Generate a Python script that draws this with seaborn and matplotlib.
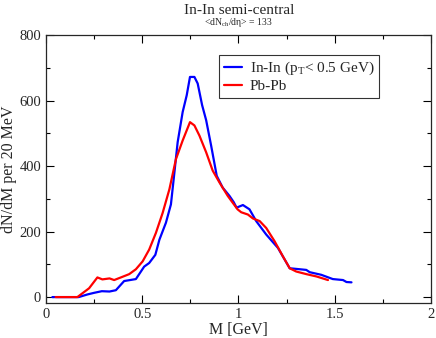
import pandas as pd
import seaborn as sns
import matplotlib.pyplot as plt
from matplotlib.ticker import MultipleLocator

# In-In (pT < 0.5 GeV)
m_inin = [0.033, 0.10, 0.17, 0.215, 0.25, 0.29, 0.33, 0.363, 0.406, 0.467, 0.51, 0.536,
          0.568, 0.589, 0.623, 0.649, 0.667, 0.684, 0.71, 0.731, 0.748, 0.771, 0.788,
          0.811, 0.832, 0.858, 0.887, 0.918, 0.953, 0.975, 0.99, 1.023, 1.057, 1.092,
          1.144, 1.205, 1.266, 1.318, 1.352, 1.37, 1.43, 1.49, 1.543, 1.561, 1.587]
dn_inin = [0, 0, 0, 8, 13, 18, 17, 21, 49, 55, 93, 104,
           129, 175, 227, 283, 380, 473, 565, 616, 672, 672, 652,
           586, 540, 462, 370, 334, 309, 290, 273, 281, 268, 232,
           191, 150, 88, 85, 83, 76, 68, 55, 52, 46, 45]

# Pb-Pb
m_pbpb = [0.05, 0.10, 0.163, 0.224, 0.267, 0.293, 0.33, 0.354, 0.389, 0.432, 0.467,
          0.502, 0.536, 0.571, 0.606, 0.641, 0.675, 0.71, 0.748, 0.771, 0.797, 0.832,
          0.866, 0.901, 0.944, 0.970, 0.995, 1.014, 1.049, 1.075, 1.11, 1.144, 1.188,
          1.231, 1.266, 1.30, 1.353, 1.405, 1.465]
dn_pbpb = [0, 0, 0, 27, 60, 54, 57, 52, 60, 70, 85,
           109, 145, 196, 257, 329, 421, 478, 534, 524, 493, 442,
           386, 350, 309, 288, 268, 259, 252, 240, 232, 211, 170,
           124, 88, 78, 70, 63, 52]

labels = ['In-In (p$_\\mathregular{T}$< 0.5 GeV)', 'Pb-Pb']
xticks = [0, 0.5, 1, 1.5, 2]
xtick_labels = ['0', '0.5', '1', '1.5', '2']

df = pd.concat([
    pd.DataFrame({'M': m_inin, 'dN': dn_inin, 'sys': labels[0]}),
    pd.DataFrame({'M': m_pbpb, 'dN': dn_pbpb, 'sys': labels[1]}),
])

sns.set_style('ticks')
plt.rcParams['font.family'] = ['Liberation Serif', 'DejaVu Serif']
plt.rcParams['mathtext.fontset'] = 'custom'
plt.rcParams['mathtext.rm'] = 'Liberation Serif'

fig = plt.figure(figsize=(4.36, 3.38), dpi=100)
ax = fig.add_axes([0.1055, 0.1036, 0.883, 0.7928])
sns.lineplot(data=df, x='M', y='dN', hue='sys', palette=['#0000ff', '#ff0000'],
             linewidth=1.6, ax=ax, sort=False, estimator=None)

ax.set_xlim(0, 2)
ax.set_ylim(-18, 800)
ax.set_xticks(xticks)
ax.set_xticklabels(xtick_labels)
ax.xaxis.set_minor_locator(MultipleLocator(0.25))
ax.yaxis.set_major_locator(MultipleLocator(200))
ax.yaxis.set_minor_locator(MultipleLocator(100))
ax.tick_params(which='both', direction='in', top=True, right=True, labelsize=10.5,
               width=0.8, color='black')
ax.tick_params(which='major', length=6)
ax.tick_params(which='minor', length=3)
for s in ax.spines.values():
    s.set_linewidth(0.9)

ax.set_xlabel('M [GeV]', fontsize=11.5, labelpad=1)
ax.set_ylabel('dN/dM per 20 MeV', fontsize=11.5, labelpad=2)

fig.text(0.548, 0.968, 'In-In semi-central', ha='center', va='center', fontsize=11)
fig.text(0.548, 0.932, '<dN$_\\mathregular{ch}$/d\u03b7> = 133', ha='center', va='center', fontsize=7)

leg = ax.legend(loc='upper left', bbox_to_anchor=(0.45, 0.925), frameon=True,
                fancybox=False, edgecolor='black', fontsize=11, handlelength=1.2,
                handletextpad=0.5, borderpad=0.3, labelspacing=0.15, borderaxespad=0)
leg.get_frame().set_linewidth(0.8)
leg.set_title(None)

fig.savefig('out.png', dpi=100)
